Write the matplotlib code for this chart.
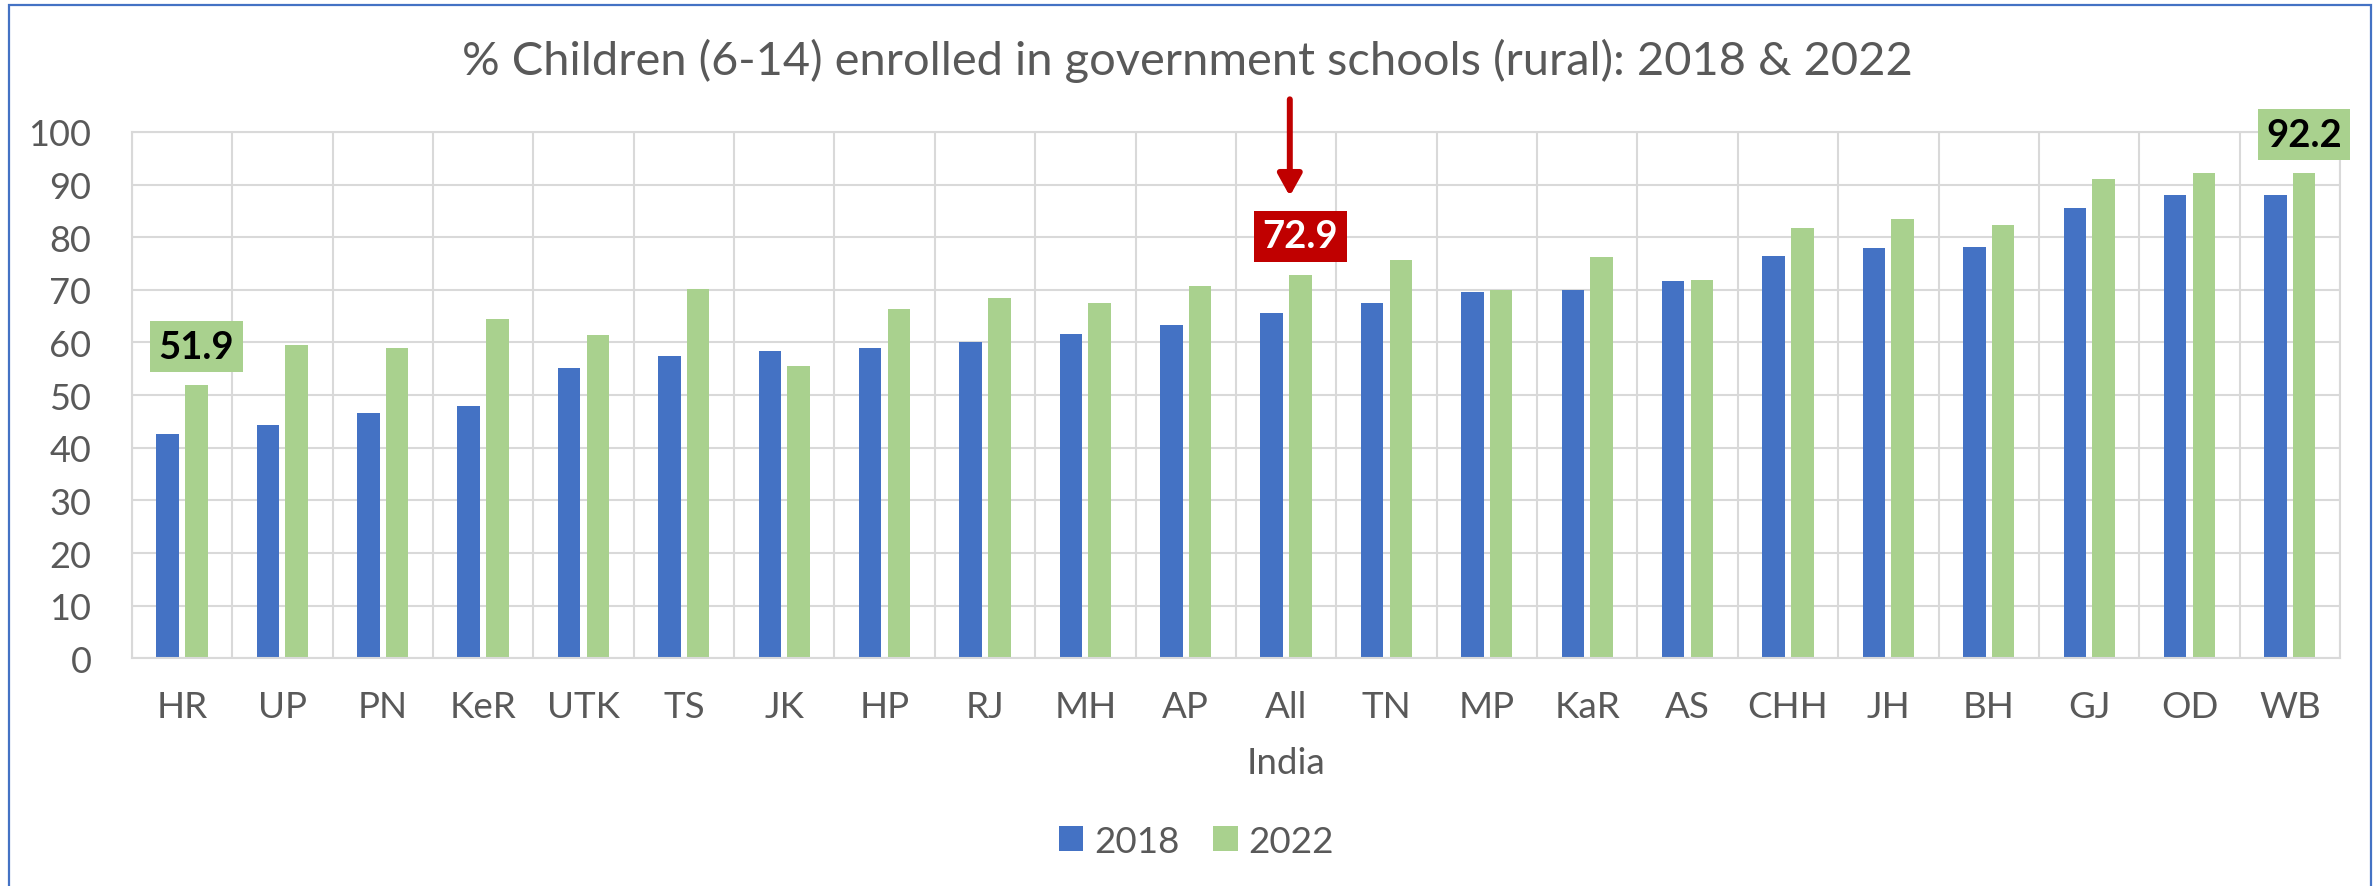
import matplotlib
matplotlib.use("Agg")
import matplotlib.pyplot as plt
import numpy as np
from matplotlib.patches import Rectangle

# % children (6-14) enrolled in government schools, rural, ASER 2018 vs 2022
states = ["HR", "UP", "PN", "KeR", "UTK", "TS", "JK", "HP", "RJ", "MH", "AP",
          "All\nIndia", "TN", "MP", "KaR", "AS", "CHH", "JH", "BH", "GJ", "OD", "WB"]
y2018 = [42.6, 44.3, 46.7, 48.0, 55.1, 57.4, 58.4, 58.9, 60.0, 61.6, 63.3,
         65.6, 67.5, 69.6, 69.9, 71.7, 76.4, 78.0, 78.1, 85.6, 88.1, 88.1]
y2022 = [51.9, 59.6, 58.9, 64.4, 61.5, 70.1, 55.5, 66.3, 68.5, 67.5, 70.8,
         72.9, 75.7, 70.0, 76.3, 71.8, 81.7, 83.4, 82.3, 91.0, 92.2, 92.2]
yticks = list(range(0, 101, 10))

# highlighted 2022 values: (index, box colour, text colour)
highlights = [(0, "#A9D18E", "black"), (11, "#C00000", "white"), (21, "#A9D18E", "black")]

BLUE = "#4472C4"
GREEN = "#A9D18E"
RED = "#C00000"
TEXT = "#595959"
GRID = "#D9D9D9"

plt.rcParams["font.family"] = ["Lato", "DejaVu Sans"]

fig = plt.figure(figsize=(23.74, 8.87), dpi=100)
ax = fig.add_axes([0.0555, 0.2567, 0.9302, 0.5934])

x = np.arange(len(states))
w = 0.224
off = 0.143
ax.bar(x - off, y2018, width=w, color=BLUE, label="2018", zorder=2)
ax.bar(x + off, y2022, width=w, color=GREEN, label="2022", zorder=2)

ax.set_xlim(-0.5, len(states) - 0.5)
ax.set_ylim(0, 100)
ax.set_yticks(yticks)
ax.set_xticks(x)
ax.set_xticklabels(states, linespacing=1.85)
ax.set_xticks(np.arange(-0.5, len(states)), minor=True)
ax.tick_params(axis="both", which="both", length=0, labelsize=26, colors=TEXT)
ax.tick_params(axis="x", labelsize=26.5, pad=23)
ax.tick_params(axis="y", pad=29)

ax.grid(axis="y", which="major", color=GRID, linewidth=1.5)
ax.grid(axis="x", which="minor", color=GRID, linewidth=1.5)
ax.grid(axis="x", which="major", visible=False)
ax.set_axisbelow(True)
for s in ax.spines.values():
    s.set_color(GRID)
    s.set_linewidth(1.5)

for i, fc, tc in highlights:
    ax.text(i + off, y2022[i] + 7.3, f"{y2022[i]:.1f}", ha="center", va="center",
            fontsize=27.5, fontweight="bold", color=tc, zorder=5, clip_on=False,
            bbox=dict(boxstyle="square,pad=0.22", fc=fc, ec="none"))

# arrow pointing to the All India value
ai = states.index("All\nIndia")
ax.annotate("", xy=(ai + 0.037, y2022[ai] + 14.9), xytext=(ai + 0.037, y2022[ai] + 33.3),
            arrowprops=dict(arrowstyle="-|>,head_length=0.65,head_width=0.36",
                            color=RED, lw=4.3, mutation_scale=20, shrinkA=0, shrinkB=0),
            annotation_clip=False, zorder=5)

fig.text(0.5, 1 - 75 / 887, "% Children (6-14) enrolled in government schools (rural): 2018 & 2022",
         ha="center", va="baseline", fontsize=33.8, color=TEXT)

fig.legend(loc="center", bbox_to_anchor=(0.504, 0.0507), ncol=2, frameon=False,
           fontsize=26.5, handlelength=0.67, handleheight=0.67, handletextpad=0.3,
           columnspacing=0.9, labelcolor=TEXT)

fig.add_artist(Rectangle((9.5 / 2374, -0.05), (2371 - 9.5) / 2374, 1.05 - 6 / 887,
                         transform=fig.transFigure, fill=False, ec=BLUE, lw=1.6, clip_on=False))

fig.savefig("out.png", dpi=100)
